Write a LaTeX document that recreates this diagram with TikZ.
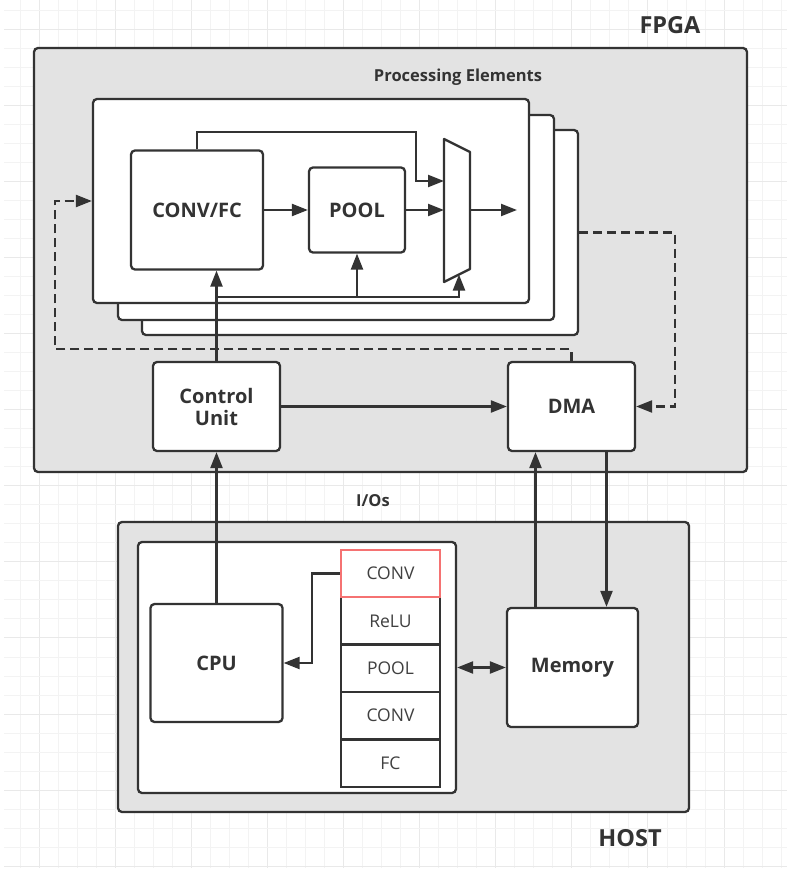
\documentclass[tikz,border=0pt]{standalone}
\usepackage{fontspec}
\setmainfont{Open Sans}
\usetikzlibrary{arrows.meta}
\definecolor{lc}{HTML}{333333}
\definecolor{tc}{HTML}{333333}
\definecolor{bg}{HTML}{E3E3E3}
\definecolor{redb}{HTML}{F57272}
\definecolor{gmin}{HTML}{F3F3F3}
\definecolor{gmaj}{HTML}{E9E9E9}
\tikzset{
  box/.style={draw=lc, line width=2.3pt, rounded corners=4pt, fill=white, inner sep=0pt, text=tc, align=center},
  container/.style={box, fill=bg},
  bold/.style={font=\bfseries\fontsize{20}{24}\selectfont},
  layer/.style={draw=lc, line width=2.3pt, fill=white, inner sep=0pt, text=black!75, minimum width=99pt, minimum height=47.4pt, font=\fontsize{17.5}{20}\selectfont},
  arr/.style={draw=lc, line width=2.3pt, -{Triangle[length=16pt,width=12pt]}},
  dasharr/.style={arr, dash pattern=on 9pt off 5pt},
  plain/.style={draw=lc, line width=2.3pt},
  title/.style={text=tc, font=\bfseries\fontsize{23.5}{27}\selectfont},
  small/.style={text=tc, font=\bfseries\fontsize{16.5}{19}\selectfont}
}
\begin{document}
\begin{tikzpicture}[x=1pt,y=-1pt]
\useasboundingbox (0,0) rectangle (791,870);
% grid
\foreach \k in {0,...,40}{
  \pgfmathtruncatemacro{\m}{mod(\k,4)}
  \ifnum\m=1 \def\gc{gmaj}\else\def\gc{gmin}\fi
  \draw[\gc, line width=1pt] ({20+19.03*\k},0) -- ({20+19.03*\k},868);
}
\foreach \k in {0,...,45}{
  \pgfmathtruncatemacro{\m}{mod(\k,4)}
  \ifnum\m=1 \def\gc{gmaj}\else\def\gc{gmin}\fi
  \draw[\gc, line width=1pt] (4,{10+19.03*\k}) -- (787,{10+19.03*\k});
}
% containers
\node[container, minimum width=713pt, minimum height=424pt] (fpga) at (390.5,260) {};
\node[container, minimum width=571pt, minimum height=290pt] (host) at (403.5,667) {};
\node[title] (fpgalbl) at (670,25) {FPGA};
\node[title] (hostlbl) at (630,838) {HOST};
\node[small] (pelbl) at (458,77) {Processing Elements};
\node[small] (iolbl) at (373,501) {I/Os};
% PE stack
\node[box, minimum width=436pt, minimum height=205pt] (pe3) at (360,232.5) {};
\node[box, minimum width=436pt, minimum height=205pt] (pe2) at (336,217.5) {};
\node[box, minimum width=436pt, minimum height=204pt] (pe1) at (311,201) {};
\node[box, bold, minimum width=132pt, minimum height=119pt] (conv) at (197,210) {CONV/FC};
\node[box, bold, minimum width=96pt, minimum height=85pt] (pool) at (357,210) {POOL};
% mux
\draw[plain, line join=round, fill=white] (444,139) coordinate (muxtl) -- (470,152) -- (470,269) -- (444,282) -- cycle;
\coordinate (muxin1) at (444,181);
\coordinate (muxin2) at (444,210);
\coordinate (muxout) at (470,210);
\coordinate (muxsel) at (459,274.5);
\coordinate (pend) at (517,210);
\coordinate (bus) at (216.5,297);
\coordinate (fbtop) at (416,132);
% FPGA boxes
\node[box, bold, minimum width=127pt, minimum height=89pt] (ctrl) at (216.5,406.5) {Control\\[-2pt]Unit};
\node[box, bold, minimum width=127pt, minimum height=89pt] (dma) at (571.5,406.5) {DMA};
% host boxes
\node[box, minimum width=318pt, minimum height=251pt] (inner) at (297,667.5) {};
\node[box, bold, minimum width=132pt, minimum height=118pt] (cpu) at (216.5,663) {CPU};
\node[box, bold, minimum width=131pt, minimum height=119pt] (mem) at (572.5,667.5) {Memory};
\node[layer] (l2) at (390.5,620.9) {ReLU};
\node[layer] (l3) at (390.5,668.3) {POOL};
\node[layer] (l4) at (390.5,715.7) {CONV};
\node[layer] (l5) at (390.5,763.1) {FC};
\node[layer, draw=redb] (l1) at (390.5,573.5) {CONV};
% connectors inside PE
\draw[arr] (conv.east) -- (pool.west);
\draw[arr] (pool.east) -- (muxin2);
\draw[arr] (muxout) -- (pend);
\draw[arr] (conv.north -| 197,0) |- (fbtop) |- (muxin1);
\draw[arr] (ctrl.north) -- (ctrl.north |- conv.south);
\draw[arr] (bus) -| (muxsel);
\draw[arr] (pool.south |- bus) -- (pool.south);
% dashed
\draw[dasharr] (dma.north) |- (55,349) |- (pe1.west);
\coordinate (rr) at (675,232.5);
\draw[dasharr] (pe3.east) -- (rr) |- (dma.east);
% control / dma
\draw[arr] (ctrl.east) -- (dma.west);
\draw[arr] (cpu.north) -- (ctrl.south);
\draw[arr] ([xshift=-37pt]mem.north) -- ([xshift=-37pt]mem.north |- dma.south);
\draw[arr] ([xshift=35pt]dma.south) -- ([xshift=35pt]dma.south |- mem.north);
% host
\coordinate (bend) at (312,573.5);
\draw[arr] (l1.west) -- (bend) |- (cpu.east);
\draw[arr, {Triangle[length=16pt,width=12pt]}-{Triangle[length=16pt,width=12pt]}] (inner.east) -- (mem.west);
\end{tikzpicture}
\end{document}
